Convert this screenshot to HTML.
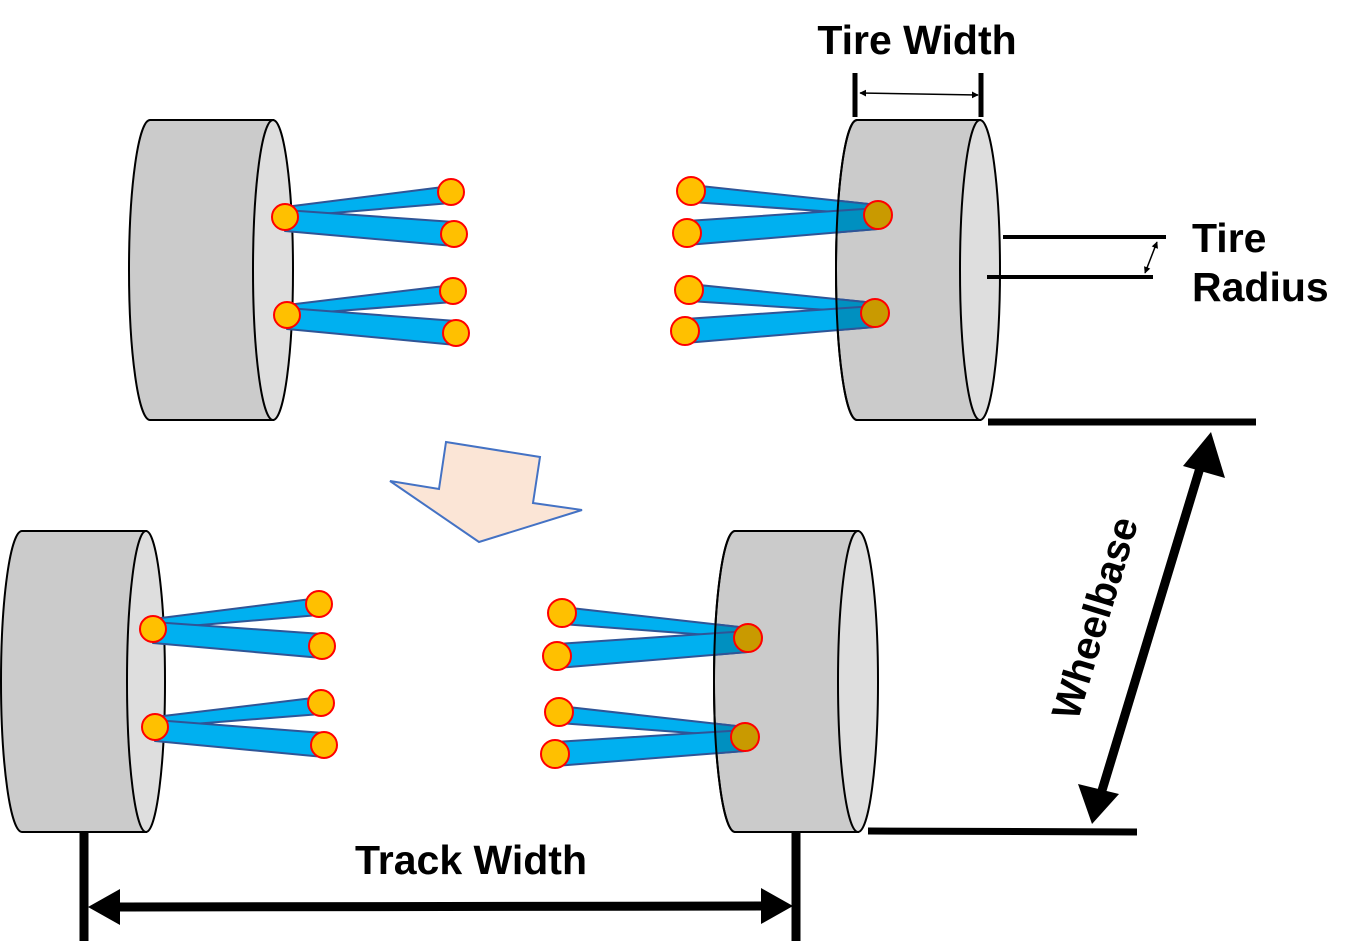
<!DOCTYPE html>
<html><head><meta charset="utf-8"><style>
html,body{margin:0;padding:0;background:#fff;}
svg{display:block;}
text{font-family:"Liberation Sans",Arial,sans-serif;font-weight:bold;fill:#000;}
</style></head><body>
<svg width="1355" height="950" viewBox="0 0 1355 950" xmlns="http://www.w3.org/2000/svg">
<defs>
<clipPath id="cTR"><path d="M857,120 A21,150 0 0 0 857,420 H980 A20,150 0 0 0 980,120 Z"/></clipPath>
<clipPath id="cBR"><path d="M735,531 A21,150.5 0 0 0 735,832 H858 A20,150.5 0 0 0 858,531 Z"/></clipPath>
<marker id="bh" viewBox="0 0 10 10" refX="9" refY="5" markerWidth="4.5" markerHeight="4.5" orient="auto-start-reverse"><path d="M0,0 L10,5 L0,10 Z" fill="#000"/></marker>
</defs>

<g stroke="#000" stroke-width="2">
<path d="M150,120 A21,150 0 0 0 150,420 H273 V120 Z" fill="#cbcbcb"/>
<ellipse cx="273" cy="270" rx="20" ry="150" fill="#dedede"/>
<path d="M857,120 A21,150 0 0 0 857,420 H980 V120 Z" fill="#cbcbcb"/>
<ellipse cx="980" cy="270" rx="20" ry="150" fill="#dedede"/>
<path d="M22,531 A21,150.5 0 0 0 22,832 H146 V531 Z" fill="#cbcbcb"/>
<ellipse cx="146" cy="681.5" rx="19" ry="150.5" fill="#dedede"/>
<path d="M735,531 A21,150.5 0 0 0 735,832 H858 V531 Z" fill="#cbcbcb"/>
<ellipse cx="858" cy="681.5" rx="20" ry="150.5" fill="#dedede"/>
</g>

<g fill="#00b0f0" stroke="#2f5597" stroke-width="2" stroke-linejoin="round">
<polygon points="285,207 451,186 451,203 285,217"/>
<polygon points="285,210 454,222 454,246 285,231"/>
<polygon points="287,305 453,285 453,302 287,315"/>
<polygon points="287,308 456,321 456,345 287,329"/>
<polygon points="878,205 691,185 691,202 878,215"/>
<polygon points="878,208 687,221 687,245 878,229"/>
<polygon points="875,303 689,284 689,301 875,313"/>
<polygon points="875,306 685,319 685,343 875,327"/>
<polygon points="153,619 319,598 319,615 153,629"/>
<polygon points="153,622 322,634 322,658 153,643"/>
<polygon points="155,717 321,697 321,714 155,727"/>
<polygon points="155,720 324,733 324,757 155,741"/>
<polygon points="748,628 562,607 562,624 748,638"/>
<polygon points="748,631 557,644 557,668 748,652"/>
<polygon points="745,727 559,706 559,723 745,737"/>
<polygon points="745,730 555,742 555,766 745,751"/>
</g>
<g fill="#0090c0" stroke="#2f5597" stroke-width="2" clip-path="url(#cTR)">
<polygon points="878,205 691,185 691,202 878,215"/>
<polygon points="878,208 687,221 687,245 878,229"/>
<polygon points="875,303 689,284 689,301 875,313"/>
<polygon points="875,306 685,319 685,343 875,327"/>
</g>
<g fill="#0090c0" stroke="#2f5597" stroke-width="2" clip-path="url(#cBR)">
<polygon points="748,628 562,607 562,624 748,638"/>
<polygon points="748,631 557,644 557,668 748,652"/>
<polygon points="745,727 559,706 559,723 745,737"/>
<polygon points="745,730 555,742 555,766 745,751"/>
</g>
<path d="M857,120 A21,150 0 0 0 857,420" fill="none" stroke="#000" stroke-width="2"/>
<path d="M735,531 A21,150.5 0 0 0 735,832" fill="none" stroke="#000" stroke-width="2"/>

<g fill="#ffc000" stroke="#f00" stroke-width="2">
<circle cx="285" cy="217" r="13"/><circle cx="451" cy="192" r="13"/><circle cx="454" cy="234" r="13"/>
<circle cx="287" cy="315" r="13"/><circle cx="453" cy="291" r="13"/><circle cx="456" cy="333" r="13"/>
<circle cx="691" cy="191" r="14"/><circle cx="687" cy="233" r="14"/>
<circle cx="689" cy="290" r="14"/><circle cx="685" cy="331" r="14"/>
<circle cx="153" cy="629" r="13"/><circle cx="319" cy="604" r="13"/><circle cx="322" cy="646" r="13"/>
<circle cx="155" cy="727" r="13"/><circle cx="321" cy="703" r="13"/><circle cx="324" cy="745" r="13"/>
<circle cx="562" cy="613" r="14"/><circle cx="557" cy="656" r="14"/>
<circle cx="559" cy="712" r="14"/><circle cx="555" cy="754" r="14"/>
</g>
<g fill="#c99a00" stroke="#f00" stroke-width="2">
<circle cx="878" cy="215" r="14"/><circle cx="875" cy="313" r="14"/>
<circle cx="748" cy="638" r="14"/><circle cx="745" cy="737" r="14"/>
</g>

<polygon points="446,442 540,457 533,503 582,510 479,542 390,481 439,489" fill="#fbe5d6" stroke="#4472c4" stroke-width="2"/>

<g stroke="#000">
<line x1="855" y1="73" x2="855" y2="117" stroke-width="5"/>
<line x1="981" y1="73" x2="981" y2="117" stroke-width="5"/>
<line x1="860" y1="93" x2="978" y2="95" stroke-width="1.5" marker-start="url(#bh)" marker-end="url(#bh)"/>
<line x1="1003" y1="237" x2="1166" y2="237" stroke-width="4"/>
<line x1="987" y1="277" x2="1153" y2="277" stroke-width="4"/>
<line x1="1157" y1="242" x2="1145" y2="273" stroke-width="1.5" marker-start="url(#bh)" marker-end="url(#bh)"/>
<line x1="988" y1="422" x2="1256" y2="422" stroke-width="7"/>
<line x1="868" y1="831" x2="1137" y2="832" stroke-width="7"/>
<line x1="1203" y1="458" x2="1100" y2="797" stroke-width="9"/>
<polygon points="1211,432 1225,478 1183,466" fill="#000" stroke="none"/>
<polygon points="1092,824 1078,784 1119,794" fill="#000" stroke="none"/>
<line x1="84" y1="832" x2="84" y2="941" stroke-width="9"/>
<line x1="796" y1="832" x2="796" y2="941" stroke-width="9"/>
<line x1="115" y1="907" x2="765" y2="906" stroke-width="9"/>
<polygon points="88,907 120,889 120,925" fill="#000" stroke="none"/>
<polygon points="793,906 761,888 761,924" fill="#000" stroke="none"/>
</g>

<text x="917" y="54" font-size="41" text-anchor="middle">Tire Width</text>
<text x="1192" y="252" font-size="41">Tire</text>
<text x="1192" y="301" font-size="41">Radius</text>
<text x="471" y="874" font-size="41" text-anchor="middle">Track Width</text>
<text x="0" y="0" font-size="40" text-anchor="middle" transform="translate(1108,622) rotate(-73)">Wheelbase</text>
</svg>
</body></html>
